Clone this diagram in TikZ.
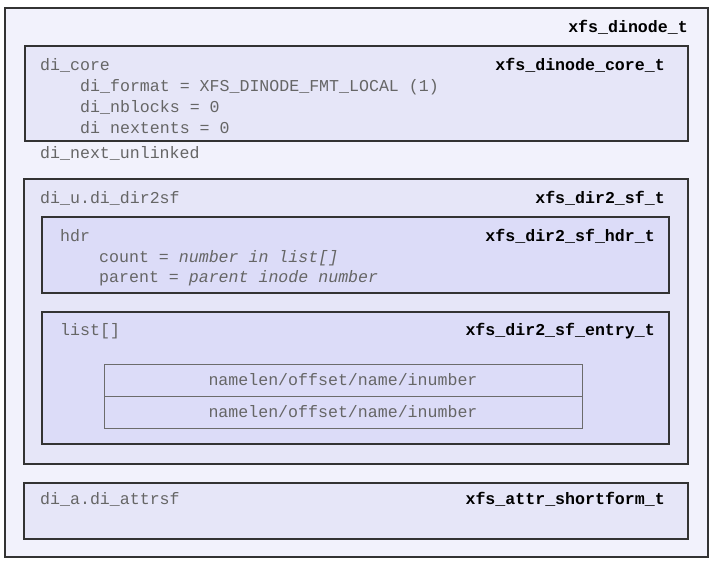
\documentclass[tikz,border=0pt]{standalone}
\usepackage{fontspec}
\setmonofont{Liberation Mono}
\definecolor{outerfill}{HTML}{F2F2FC}
\definecolor{midfill}{HTML}{E6E6F8}
\definecolor{innerfill}{HTML}{DCDCF8}
\definecolor{edge}{HTML}{333333}
\definecolor{txt}{HTML}{666666}
\tikzset{
  box/.style={draw=edge, line width=1.3pt, rectangle, inner sep=0pt},
  rowbox/.style={draw=gray!85!black, line width=0.8pt, rectangle, fill=innerfill, inner sep=0pt, minimum width=478pt, minimum height=32pt, font=\fontsize{16.6}{20}\selectfont\ttfamily, text=txt},
  lbl/.style={anchor=mid west, inner sep=0pt, font=\fontsize{16.6}{20}\selectfont\ttfamily, text=txt},
  ttl/.style={anchor=mid east, inner sep=0pt, font=\fontsize{16.6}{20}\selectfont\ttfamily\bfseries, text=black}
}
\begin{document}
\begin{tikzpicture}[x=1pt,y=-1pt]
\useasboundingbox (0,0) rectangle (719,571);
\fill[white] (0,0) rectangle (719,571);
% outer
\node[box, fill=outerfill, minimum width=703pt, minimum height=549pt] (outer) at (356.5,282.5) {};
\node[ttl] (touter) at (688,30) {xfs\_dinode\_t};
% core
\node[box, fill=midfill, minimum width=663pt, minimum height=95pt] (core) at (356.5,93.5) {};
\node[ttl] (tcore) at (665,68) {xfs\_dinode\_core\_t};
\node[lbl] (l1) at (40,68) {di\_core};
\node[lbl] (l2) at (80,89) {di\_format = XFS\_DINODE\_FMT\_LOCAL (1)};
\node[lbl] (l3) at (80,110) {di\_nblocks = 0};
\node[lbl] (l4) at (80,131) {di nextents = 0};
\node[lbl] (l5) at (40,156) {di\_next\_unlinked};
% dir2sf
\node[box, fill=midfill, minimum width=664pt, minimum height=285pt] (dir) at (356,321.5) {};
\node[ttl] (tdir) at (665,201) {xfs\_dir2\_sf\_t};
\node[lbl] (l6) at (40,201) {di\_u.di\_dir2sf};
% hdr
\node[box, fill=innerfill, minimum width=627pt, minimum height=76pt] (hdr) at (355.5,255) {};
\node[ttl] (thdr) at (655,239) {xfs\_dir2\_sf\_hdr\_t};
\node[lbl] (l7) at (60,239) {hdr};
\node[lbl] (l8) at (99,260) {count = \textit{number in list[]}};
\node[lbl] (l9) at (99,280) {parent = \textit{parent inode number}};
% list
\node[box, fill=innerfill, minimum width=627pt, minimum height=132pt] (list) at (355.5,378) {};
\node[ttl] (tlist) at (655,333) {xfs\_dir2\_sf\_entry\_t};
\node[lbl] (l10) at (60,333) {list[]};
\node[rowbox] (row1) at (343,380) {namelen/offset/name/inumber};
\node[rowbox] (row2) at (343,412) {namelen/offset/name/inumber};
% attr
\node[box, fill=midfill, minimum width=664pt, minimum height=56pt] (attr) at (356,511) {};
\node[ttl] (tattr) at (665,502) {xfs\_attr\_shortform\_t};
\node[lbl] (l11) at (40,502) {di\_a.di\_attrsf};
\end{tikzpicture}
\end{document}
